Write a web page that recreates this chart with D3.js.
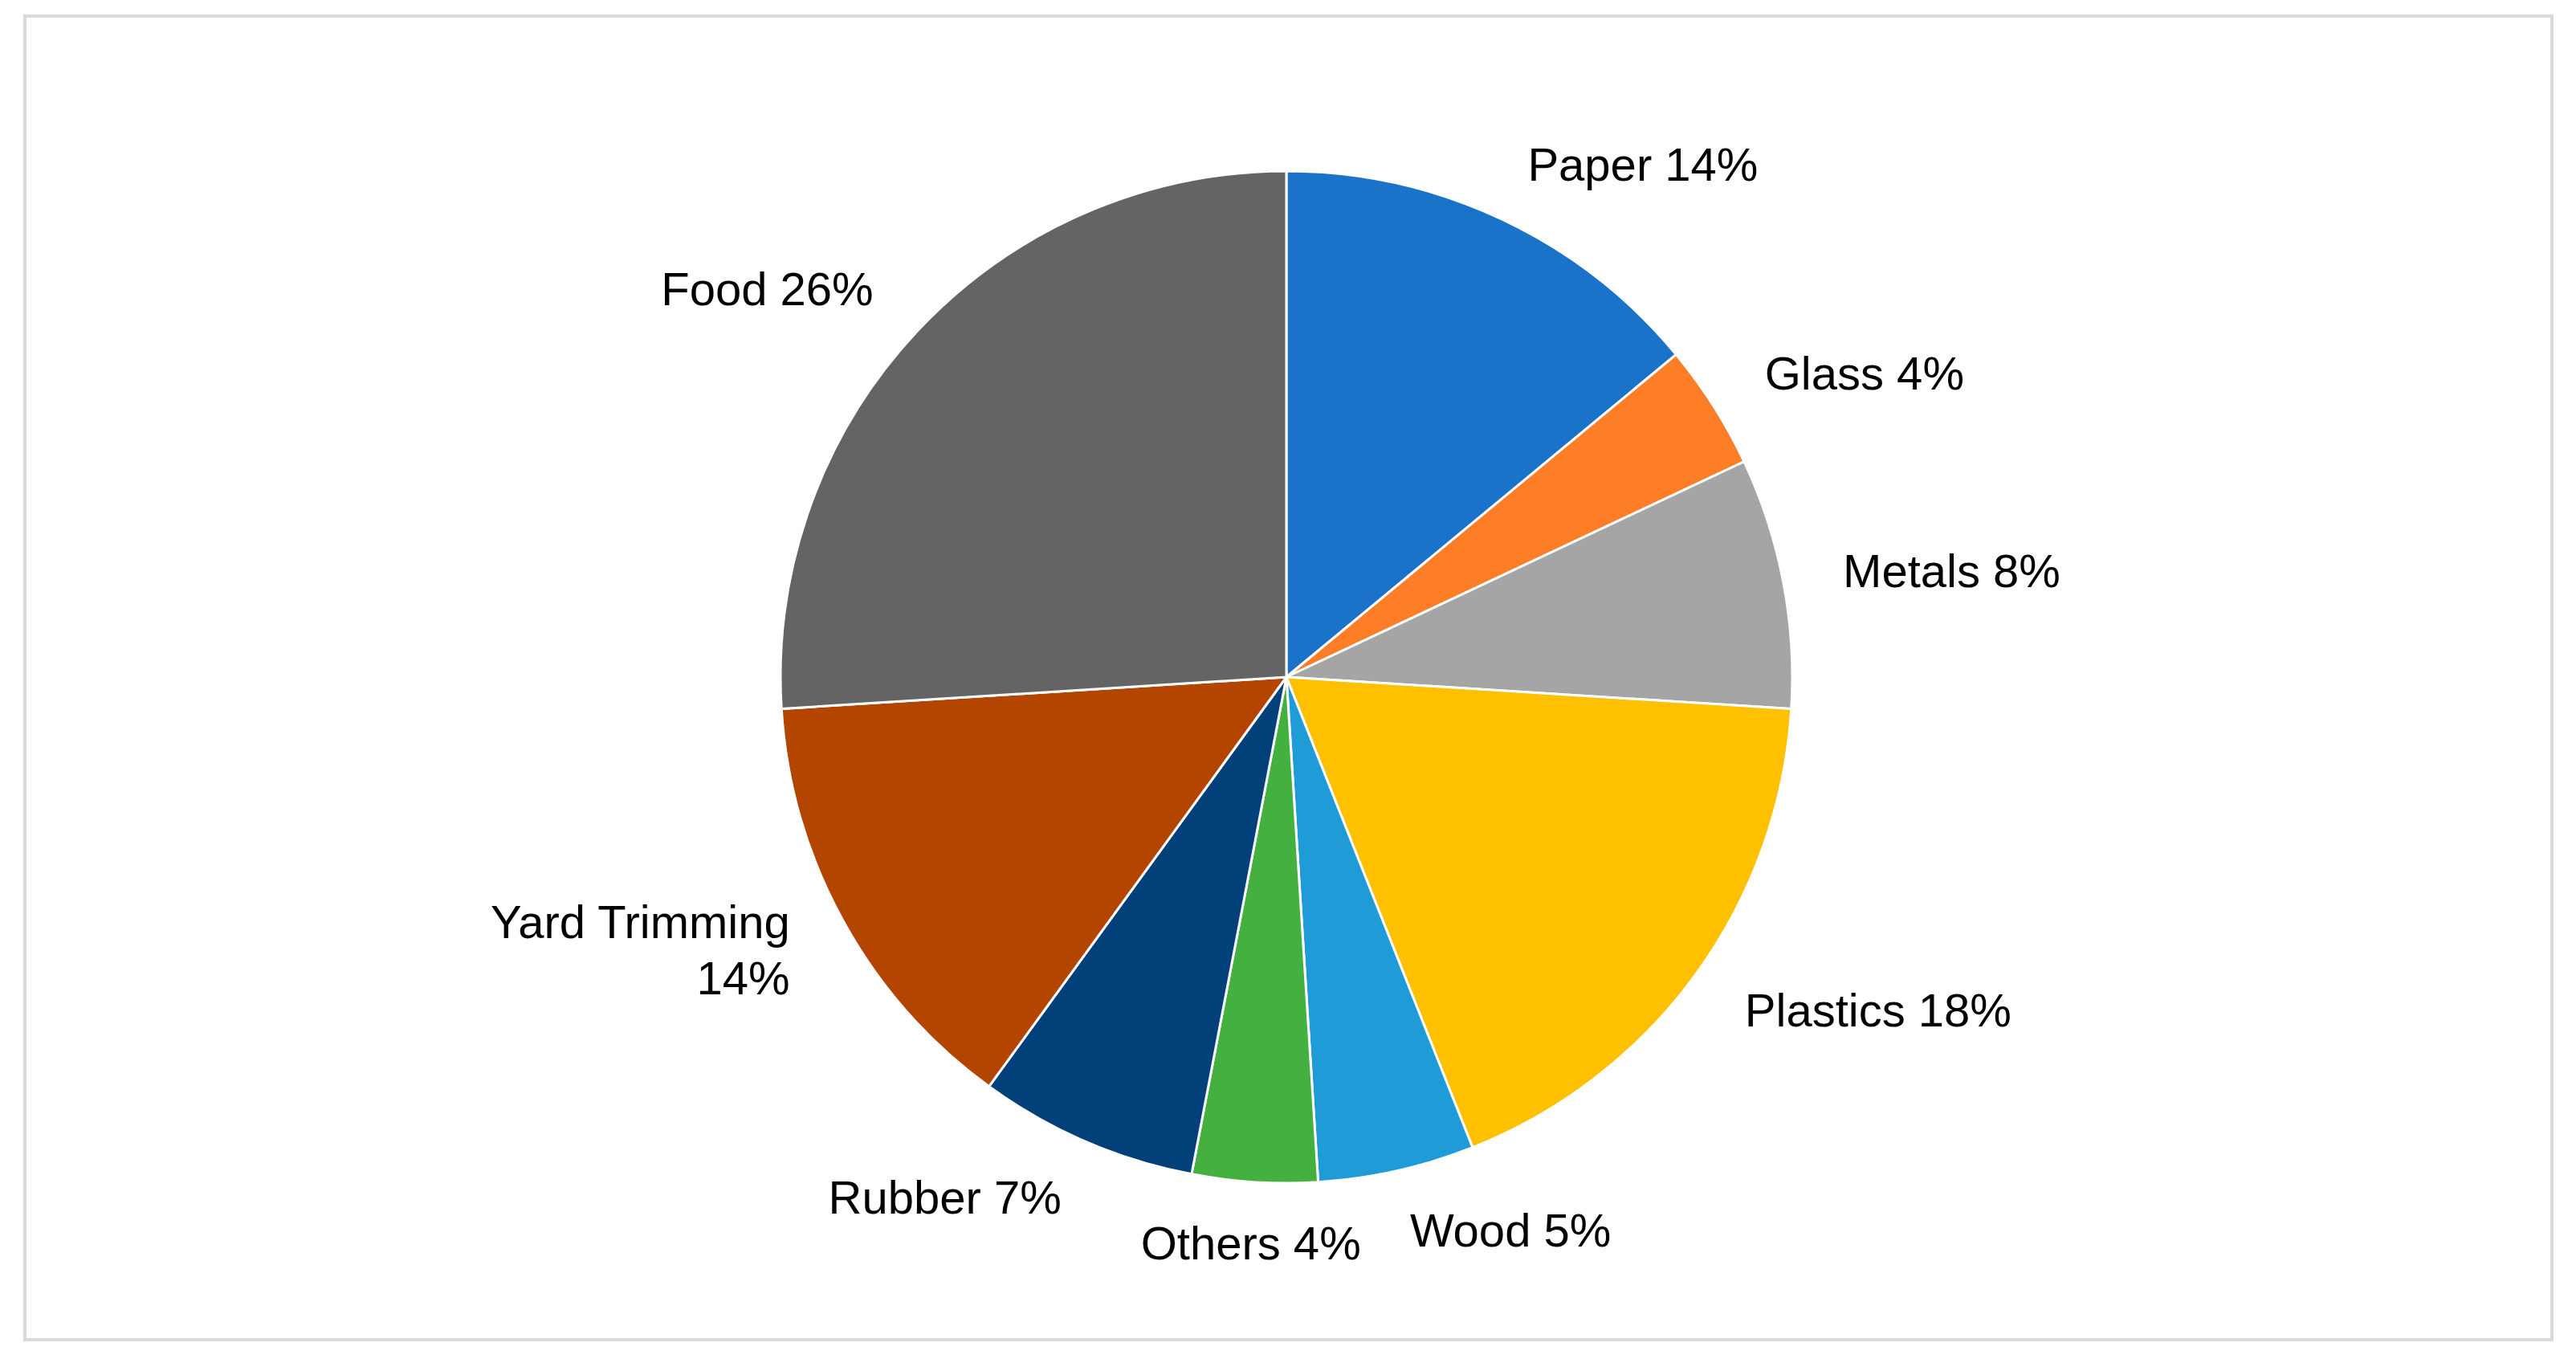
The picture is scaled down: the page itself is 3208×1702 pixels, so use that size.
<!DOCTYPE html>
<html><head><meta charset="utf-8">
<script src="https://cdn.jsdelivr.net/npm/d3@7"></script>
<style>body{margin:0;background:#fff}</style></head>
<body><svg id="c" width="3208" height="1702"></svg>
<script>
const categories = ["Paper","Glass","Metals","Plastics","Wood","Others","Rubber","Yard Trimming","Food"];
const values = [14,4,8,18,5,4,7,14,26];
const colors = ["#1a73c8","#fd7e26","#a5a5a5","#ffc000","#1f9cd8","#43b03f","#014078","#b34500","#646464"];
const labelLines = [["Paper 14%"],["Glass 4%"],["Metals 8%"],["Plastics 18%"],["Wood 5%"],["Others 4%"],["Rubber 7%"],["Yard Trimming","14%"],["Food 26%"]];

const svg = d3.select("#c");
svg.append("rect").attr("x",31).attr("y",20).attr("width",3147).attr("height",1648)
  .attr("fill","#fff").attr("stroke","#d9d9d9").attr("stroke-width",4);
const cx=1602, cy=843, r=630;
const g = svg.append("g").attr("transform",`translate(${cx},${cy})`);
const pie = d3.pie().sort(null).value(d=>d.v);
const data = pie(categories.map((c,i)=>({c,v:values[i],i})));
const arc = d3.arc().innerRadius(0).outerRadius(r);
g.selectAll("path").data(data).join("path").attr("d",arc)
  .attr("fill",d=>colors[d.data.i]).attr("stroke","#fff").attr("stroke-width",3);
const lr = r*1.12;
data.forEach(d=>{
  const a=(d.startAngle+d.endAngle)/2;
  const x=lr*Math.sin(a), y=-lr*Math.cos(a);
  const s=Math.sin(a);
  const anchor = Math.abs(s)<0.1?"middle":(s>0?"start":"end");
  const lines=labelLines[d.data.i];
  const t=g.append("text").attr("x",x).attr("y",y).attr("text-anchor",anchor)
    .attr("font-family","Liberation Sans, Arial, sans-serif").attr("font-size",58).attr("fill","#000");
  lines.forEach((L,k)=>t.append("tspan").attr("x",x)
    .attr("dy", k===0 ? (0.35-(lines.length-1)*0.6)+"em" : "1.2em").text(L));
});
</script></body></html>
